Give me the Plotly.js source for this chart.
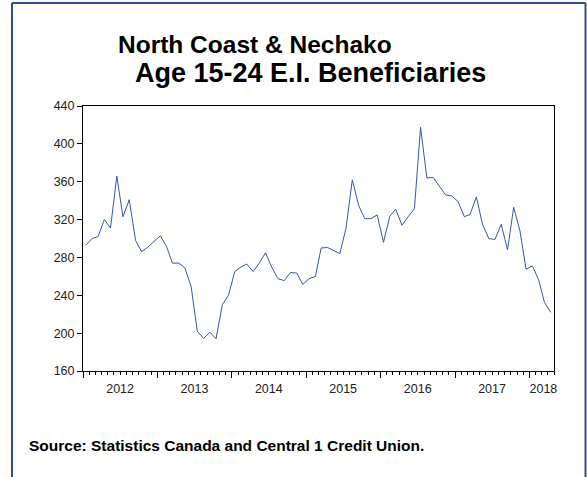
<!DOCTYPE html>
<html>
<head>
<meta charset="utf-8">
<script src="https://cdn.plot.ly/plotly-3.0.1.min.js"></script>
<style>html,body{margin:0;padding:0;background:#fff;}#chart{width:587px;height:477px;}</style>
</head>
<body>
<div id="chart"></div>
<script>
// Monthly series, Jan 2012 .. Apr 2018
const startYear = 2012;
const values2012 = [293, 300, 302, 320, 311, 366, 323, 341, 298, 286, 291, 297];
const values2013 = [303, 291, 274, 274, 269, 249, 202, 194.5, 201, 194, 230, 240];
const values2014 = [265, 270, 273, 265, 274, 285, 270, 257.5, 255.5, 264, 263.5, 251.5];
const values2015 = [257.5, 260, 290, 290.5, 287, 284, 311, 362, 335, 321, 321, 325];
const values2016 = [296, 323.5, 331, 314, 323, 331.5, 417.5, 364, 364.5, 356, 346, 345];
const values2017 = [339, 323, 325.5, 344, 315, 300, 299, 315, 288, 333, 308, 267.5];
const values2018 = [271, 256, 232.5, 222];
const yearLabels = ['2012', '2013', '2014', '2015', '2016', '2017', '2018'];
const yearLabelDates = ['2012-07-01', '2013-07-01', '2014-07-01', '2015-07-01', '2016-07-01', '2017-07-01', '2018-03-10'];
const yTicks = [160, 200, 240, 280, 320, 360, 400, 440];

const values = [].concat(values2012, values2013, values2014, values2015, values2016, values2017, values2018);
const months = values.map((v, i) => {
  const y = startYear + Math.floor(i / 12);
  const m = (i % 12) + 1;
  return y + '-' + String(m).padStart(2, '0') + '-15';
});

const font = 'Arial, "Liberation Sans", sans-serif';
const xRange = ['2012-01-01', '2018-05-01'];

const trace = {
  x: months, y: values, type: 'scatter', mode: 'lines',
  line: {color: '#3A55A8', width: 1}, hoverinfo: 'skip'
};
// carrier for the year-label axis (drawn fully transparent)
const labelCarrier = {
  x: months, y: values, xaxis: 'x2', yaxis: 'y', type: 'scatter', mode: 'lines',
  line: {color: 'rgba(0,0,0,0)', width: 0}, opacity: 0, hoverinfo: 'skip'
};

const layout = {
  width: 587, height: 477,
  margin: {l: 83, r: 33, t: 106, b: 106},
  paper_bgcolor: '#fff', plot_bgcolor: '#fff',
  showlegend: false,
  font: {family: font, color: '#222', size: 12},
  xaxis: {
    type: 'date', range: xRange,
    tick0: '2012-01-01', dtick: 'M12', showticklabels: false,
    ticks: 'outside', ticklen: 6, tickcolor: '#000', tickwidth: 1,
    minor: {dtick: 'M1', ticks: 'outside', ticklen: 3, tickcolor: '#000', tickwidth: 1},
    showline: true, mirror: true, linecolor: '#000', linewidth: 1,
    showgrid: false, zeroline: false, fixedrange: true
  },
  xaxis2: {
    type: 'date', range: xRange, overlaying: 'x', anchor: 'y', side: 'bottom',
    tickvals: yearLabelDates, ticktext: yearLabels, ticks: '', ticklabelstandoff: 8,
    showline: false, showgrid: false, zeroline: false, fixedrange: true,
    tickfont: {family: font, size: 12.5, color: '#222'}
  },
  yaxis: {
    range: [160, 440], tickvals: yTicks,
    ticks: 'outside', ticklen: 5, tickcolor: '#000',
    showline: true, mirror: true, linecolor: '#000', linewidth: 1,
    showgrid: false, zeroline: false, fixedrange: true,
    tickfont: {family: font, size: 12.5, color: '#222'}
  },
  annotations: [
    {text: 'North Coast & Nechako', xref: 'paper', yref: 'paper', x: (116 - 83) / 471, y: (371 - 44) / 265,
     xanchor: 'left', yanchor: 'middle', showarrow: false, font: {family: font, size: 24.5, weight: 700, color: '#000'}},
    {text: 'Age 15-24 E.I. Beneficiaries', xref: 'paper', yref: 'paper', x: (133 - 83) / 471, y: (371 - 73) / 265,
     xanchor: 'left', yanchor: 'middle', showarrow: false, font: {family: font, size: 27, weight: 700, color: '#000'}},
    {text: 'Source: Statistics Canada and Central 1 Credit Union.', xref: 'paper', yref: 'paper', x: (27 - 83) / 471, y: (371 - 445) / 265,
     xanchor: 'left', yanchor: 'middle', showarrow: false, font: {family: font, size: 15.5, weight: 700, color: '#000'}}
  ],
  shapes: [
    {type: 'line', xref: 'paper', yref: 'paper', x0: (12 - 83) / 471, x1: (12 - 83) / 471, y0: (371 - 3) / 265, y1: (371 - 480) / 265, line: {color: '#2F4E8E', width: 2}},
    {type: 'line', xref: 'paper', yref: 'paper', x0: (585.5 - 83) / 471, x1: (585.5 - 83) / 471, y0: (371 - 3) / 265, y1: (371 - 480) / 265, line: {color: '#2F4E8E', width: 2}},
    {type: 'line', xref: 'paper', yref: 'paper', x0: (12 - 83) / 471, x1: (585.5 - 83) / 471, y0: (371 - 3) / 265, y1: (371 - 3) / 265, line: {color: '#2F4E8E', width: 2}}
  ]
};

Plotly.newPlot('chart', [trace, labelCarrier], layout, {displayModeBar: false, staticPlot: true});
</script>
</body>
</html>
